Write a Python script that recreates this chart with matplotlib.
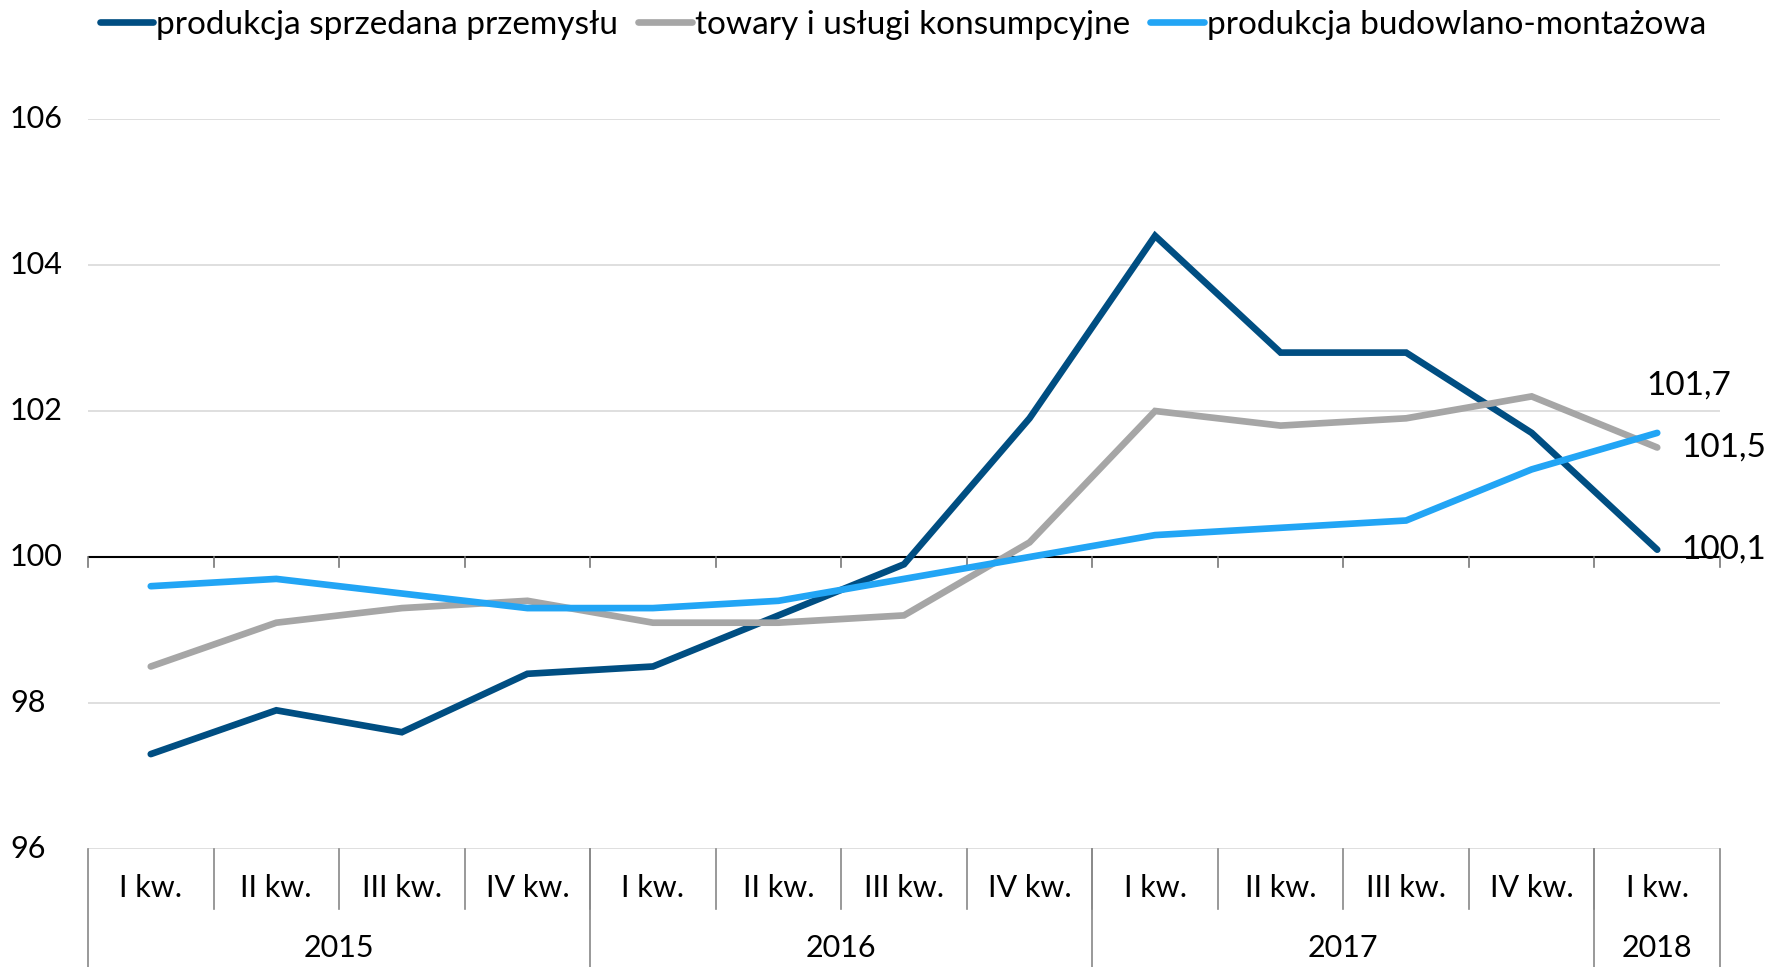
import matplotlib
matplotlib.use("Agg")
import matplotlib.pyplot as plt
from matplotlib.transforms import blended_transform_factory

plt.rcParams['font.family'] = ['Lato', 'DejaVu Sans']

quarters = ["I kw.", "II kw.", "III kw.", "IV kw.",
            "I kw.", "II kw.", "III kw.", "IV kw.",
            "I kw.", "II kw.", "III kw.", "IV kw.",
            "I kw."]
years = ["2015", "2016", "2017", "2018"]
year_counts = [4, 4, 4, 1]

industry = [97.3, 97.9, 97.6, 98.4, 98.5, 99.2, 99.9, 101.9, 104.4, 102.8, 102.8, 101.7, 100.1]
consumer = [98.5, 99.1, 99.3, 99.4, 99.1, 99.1, 99.2, 100.2, 102.0, 101.8, 101.9, 102.2, 101.5]
construction = [99.6, 99.7, 99.5, 99.3, 99.3, 99.4, 99.7, 100.0, 100.3, 100.4, 100.5, 101.2, 101.7]

names = ["produkcja sprzedana przemysłu", "towary i usługi konsumpcyjne", "produkcja budowlano-montażowa"]
colors = ["#004e82", "#a6a6a6", "#22a5f5"]
yticks = [96, 98, 100, 102, 104, 106]

fig = plt.figure(figsize=(17.75, 9.67), dpi=100)
ax = fig.add_axes([88/1775, 1-849/967, (1720-88)/1775, (849-119)/967])

n = len(quarters)
x = list(range(n))
ax.set_xlim(-0.5, n - 0.5)
ax.set_ylim(96, 106)

for s in ax.spines.values():
    s.set_visible(False)
ax.set_xticks([])
ax.set_yticks([])

# gridlines
for v in yticks:
    if v == 100:
        ax.axhline(v, color="black", lw=1.5, zorder=2)
    else:
        ax.axhline(v, color="#d9d9d9", lw=1.2, zorder=1)

# small ticks below the 100 line at category boundaries
for b in range(n + 1):
    ax.plot([b - 0.5, b - 0.5], [100, 99.86], color="#777777", lw=1.2, zorder=2, clip_on=False)

# y labels
trans_y = blended_transform_factory(fig.transFigure, ax.transData)
for v in yticks:
    fig.text(10/1775, v, str(v), transform=trans_y, fontsize=22, ha="left", va="center")

series = [industry, consumer, construction]
lines = []
for vals, c, nm in zip(series, colors, names):
    ln, = ax.plot(x, vals, color=c, lw=4.8, solid_capstyle="round", solid_joinstyle="miter", label=nm, zorder=3)
    lines.append(ln)

# end labels
def fmt(v):
    return f"{v:.1f}".replace(".", ",")

ax.annotate(fmt(construction[-1]), (x[-1], construction[-1]), xytext=(-8, 34), textcoords="offset points",
            fontsize=24, ha="left", va="center", annotation_clip=False)
ax.annotate(fmt(consumer[-1]), (x[-1], consumer[-1]), xytext=(17, 0), textcoords="offset points",
            fontsize=24, ha="left", va="center", annotation_clip=False)
ax.annotate(fmt(industry[-1]), (x[-1], industry[-1]), xytext=(17, 0), textcoords="offset points",
            fontsize=24, ha="left", va="center", annotation_clip=False)

# category table below axes
tx = blended_transform_factory(ax.transData, fig.transFigure)
y_top = 1 - 849/967
y_q = 1 - 909/967
y_bot = 0.0
for i, q in enumerate(quarters):
    fig.text(i, 1 - 888/967, q, transform=tx, fontsize=22, ha="center", va="center")
for b in range(1, n):
    fig.add_artist(plt.Line2D([b - 0.5, b - 0.5], [y_q, y_top], transform=tx, color="#888888", lw=1.2))
start = 0
bounds = [start]
for cnt in year_counts:
    start += cnt
    bounds.append(start)
for b in bounds:
    fig.add_artist(plt.Line2D([b - 0.5, b - 0.5], [y_bot, y_top], transform=tx, color="#888888", lw=1.2))
for yr, a, b in zip(years, bounds[:-1], bounds[1:]):
    fig.text((a + b - 1) / 2, 1 - 948/967, yr, transform=tx, fontsize=22, ha="center", va="center")

fig.legend(handles=lines, loc="center", bbox_to_anchor=(903/1775, 1 - 25/967), ncol=3, frameon=False,
           fontsize=24, handlelength=1.6, handletextpad=0.1, columnspacing=0.6)

fig.savefig("out.png", dpi=100)
